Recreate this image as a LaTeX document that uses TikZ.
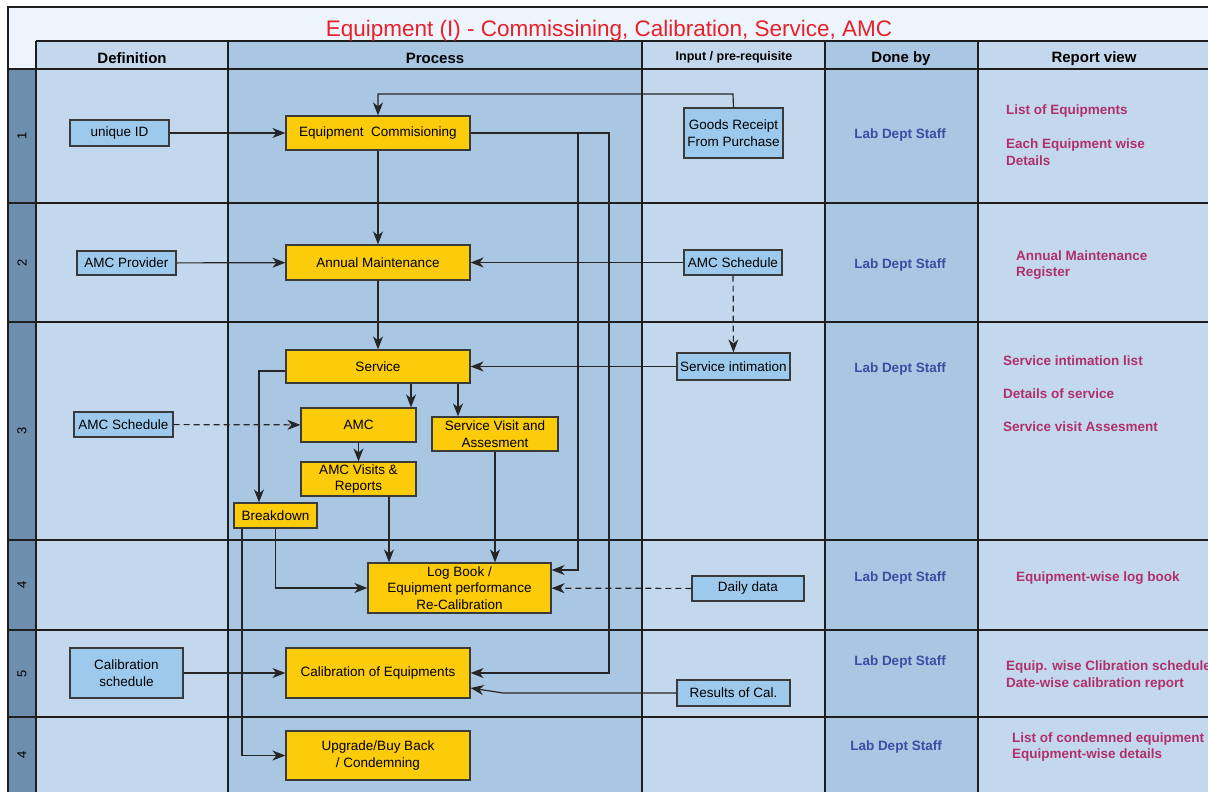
\documentclass[tikz,border=0pt]{standalone}
\usepackage{fontspec}
\setmainfont{Liberation Sans}
\usetikzlibrary{arrows.meta}
\definecolor{titlebg}{HTML}{EDF4FB}
\definecolor{lightcol}{HTML}{C3D8ED}
\definecolor{darkcol}{HTML}{A9C7E3}
\definecolor{numcol}{HTML}{6E8EAE}
\definecolor{gridclr}{HTML}{1E1E1E}
\definecolor{boxline}{HTML}{3A3A3A}
\definecolor{bluefill}{HTML}{9DCAEC}
\definecolor{yelfill}{HTML}{FCCB0A}
\definecolor{lineclr}{HTML}{262626}
\definecolor{staffclr}{HTML}{3D4DA3}
\definecolor{repclr}{HTML}{B0306C}
\definecolor{titleclr}{HTML}{E8202A}
\newcommand{\boxfnt}{\fontsize{13.5}{16.5}\selectfont}
\newcommand{\hdrfnt}{\fontsize{15}{17}\selectfont\bfseries}
\newcommand{\repfnt}{\fontsize{13.5}{16.5}\selectfont\bfseries}
\begin{document}
\begin{tikzpicture}[x=1pt,y=-1pt,
  bluebox/.style={draw=boxline,fill=bluefill,line width=1.2pt,inner sep=0pt,align=center,font=\boxfnt},
  yelbox/.style={draw=boxline,fill=yelfill,line width=1.2pt,inner sep=0pt,align=center,font=\boxfnt},
  conn/.style={draw=lineclr,line width=1.2pt,-{Stealth[length=13pt,width=10pt,inset=4pt]}},
  dconn/.style={conn,dash pattern=on 6pt off 4pt},
  staff/.style={font=\repfnt,text=staffclr,inner sep=0pt},
  rep/.style={font=\repfnt,text=repclr,inner sep=0pt,anchor=west,align=left},
  hdr/.style={font=\hdrfnt,inner sep=0pt},
  rownum/.style={font=\fontsize{13}{15}\selectfont,rotate=90,inner sep=0pt},
  grid/.style={draw=gridclr,line width=1.7pt}]
\useasboundingbox (0,0) rectangle (1208,792);
\fill[white] (0,0) rectangle (1208,792);
% backgrounds
\fill[titlebg] (8,7) rectangle (1208,41);
\fill[titlebg] (8,41) rectangle (36,69);
\fill[numcol] (8,69) rectangle (36,792);
\fill[lightcol] (36,41) rectangle (228,792);
\fill[darkcol] (228,41) rectangle (642,792);
\fill[lightcol] (642,41) rectangle (825,792);
\fill[darkcol] (825,41) rectangle (978,792);
\fill[lightcol] (978,41) rectangle (1208,792);
% outer frame
\draw[draw=gridclr,line width=1.2pt] (1208,7) -- (8,7) -- (8,792);
% grid
\draw[grid] (36,41) -- (1208,41);
\foreach \yy in {69,203,322,540,630,717} {\draw[grid] (8,\yy) -- (1208,\yy);}
\foreach \xx in {36,228,642,825,978} {\draw[grid] (\xx,41) -- (\xx,792);}
% title and headers
\node[font=\fontsize{22.5}{25}\selectfont,text=titleclr,inner sep=0pt] (title) at (609,30.5) {Equipment (I) - Commissining, Calibration, Service, AMC};
\node[hdr] (hdef) at (132,58.5) {Definition};
\node[hdr] (hproc) at (435,58.5) {Process};
\node[hdr,font=\fontsize{12.5}{15}\selectfont\bfseries] (hinp) at (734,57.5) {Input / pre-requisite};
\node[hdr] (hdone) at (901,58.5) {Done by};
\node[hdr] (hrep) at (1094,58.5) {Report view};
% row numbers
\node[rownum] (n1) at (22,136) {1};
\node[rownum] (n2) at (22,262.5) {2};
\node[rownum] (n3) at (22,431) {3};
\node[rownum] (n4) at (22,585) {4};
\node[rownum] (n5) at (22,673.5) {5};
\node[rownum] (n6) at (22,754.5) {4};
% definition column
\node[bluebox,minimum width=99pt,minimum height=26pt] (uid) at (119.5,133) {unique ID};
\node[bluebox,minimum width=99pt,minimum height=24pt] (amp) at (126.5,263) {AMC Provider};
\node[bluebox,minimum width=99pt,minimum height=25pt] (amsd) at (123.5,424.5) {AMC Schedule};
\node[bluebox,minimum width=113pt,minimum height=50pt] (cals) at (126.5,673) {Calibration\\schedule};
% process column
\node[yelbox,minimum width=184pt,minimum height=34pt] (ec) at (378,133) {Equipment\ \ Commisioning};
\node[yelbox,minimum width=184pt,minimum height=35pt] (am) at (378,262.5) {Annual Maintenance};
\node[yelbox,minimum width=184pt,minimum height=33pt] (svc) at (378,366.5) {Service};
\node[yelbox,minimum width=115pt,minimum height=34pt] (amc) at (358.5,425) {AMC};
\node[yelbox,minimum width=126pt,minimum height=34pt] (svv) at (495,434) {Service Visit and\\Assesment};
\node[yelbox,minimum width=115pt,minimum height=34pt] (amv) at (358.5,479) {AMC Visits \&\\Reports};
\node[yelbox,minimum width=83pt,minimum height=25pt] (bd) at (275.5,515.5) {Breakdown};
\node[yelbox,minimum width=183pt,minimum height=50pt] (log) at (459.5,588) {Log Book /\\Equipment performance\\Re-Calibration};
\node[yelbox,minimum width=184pt,minimum height=50pt] (cal) at (378,673) {Calibration of Equipments};
\node[yelbox,minimum width=184pt,minimum height=49pt] (upg) at (378,755.5) {Upgrade/Buy Back\\/ Condemning};
% input column
\node[bluebox,minimum width=99pt,minimum height=50pt] (goods) at (733.5,133) {Goods Receipt\\From Purchase};
\node[bluebox,minimum width=98pt,minimum height=25pt] (amsi) at (733,262.5) {AMC Schedule};
\node[bluebox,minimum width=113pt,minimum height=27pt] (sint) at (733.5,366.5) {Service intimation};
\node[bluebox,minimum width=112pt,minimum height=25pt] (daily) at (748,588.5) {Daily data};
\node[bluebox,minimum width=113pt,minimum height=26pt] (res) at (733.5,693) {Results of Cal.};
% done by
\node[staff] (s1) at (900,135) {Lab Dept Staff};
\node[staff] (s2) at (900,265) {Lab Dept Staff};
\node[staff] (s3) at (900,369) {Lab Dept Staff};
\node[staff] (s4) at (900,578) {Lab Dept Staff};
\node[staff] (s5) at (900,662) {Lab Dept Staff};
\node[staff] (s6) at (896,747) {Lab Dept Staff};
% report view
\node[rep] (r1a) at (1006,111) {List of Equipments};
\node[rep] (r1b) at (1006,152) {Each Equipment wise\\Details};
\node[rep] (r2) at (1016,265) {Annual Maintenance\\Register};
\node[rep] (r3a) at (1003,361) {Service intimation list};
\node[rep] (r3b) at (1003,394) {Details of service};
\node[rep] (r3c) at (1003,427) {Service visit Assesment};
\node[rep] (r4) at (1016,578) {Equipment-wise log book};
\node[rep] (r5) at (1006,675.5) {Equip. wise Clibration schedule\\Date-wise calibration report};
\node[rep] (r6) at (1012,747) {List of condemned equipment\\Equipment-wise details};
% helper coordinates
\coordinate (gtop) at (733,94);
\coordinate (c609) at (609,133);
\coordinate (c578) at (578,133);
\coordinate (xa) at (411,0);
\coordinate (xb) at (458,0);
\coordinate (xc) at (259,0);
\coordinate (xd) at (389,0);
\coordinate (xe) at (242,0);
\coordinate (rbend) at (503,693);
% connectors
\draw[conn] (uid) -- (ec);
\draw[conn] (goods.north) -- (gtop) -| (ec.north);
\draw[conn] (ec) -- (am);
\draw[conn] (ec.east) -- (c609) |- (cal.east);
\draw[conn] (c578) |- ([yshift=18pt]log.east);
\draw[conn] (amp) -- (am);
\draw[conn] (amsi) -- (am);
\draw[dconn] (amsi) -- (sint);
\draw[conn] (am) -- (svc);
\draw[conn] (sint) -- (svc);
\draw[conn] (svc.south -| xa) -- (amc.north -| xa);
\draw[conn] (svc.south -| xb) -- (svv.north -| xb);
\draw[conn] ([yshift=-4.5pt]svc.west) -| (bd.north -| xc);
\draw[dconn] (amsd) -- (amc);
\draw[conn] (amc) -- (amv);
\draw[conn] (amv.south -| xd) -- (log.north -| xd);
\draw[conn] (svv.south) -- (svv.south |- log.north);
\draw[conn] (bd.south) |- (log.west);
\draw[conn] (bd.south -| xe) |- (upg.west);
\draw[dconn] (daily) -- (log);
\draw[conn] (cals) -- (cal);
\draw[conn] (res.west) -- (rbend) -- ([yshift=-15pt]cal.east);
\end{tikzpicture}
\end{document}
